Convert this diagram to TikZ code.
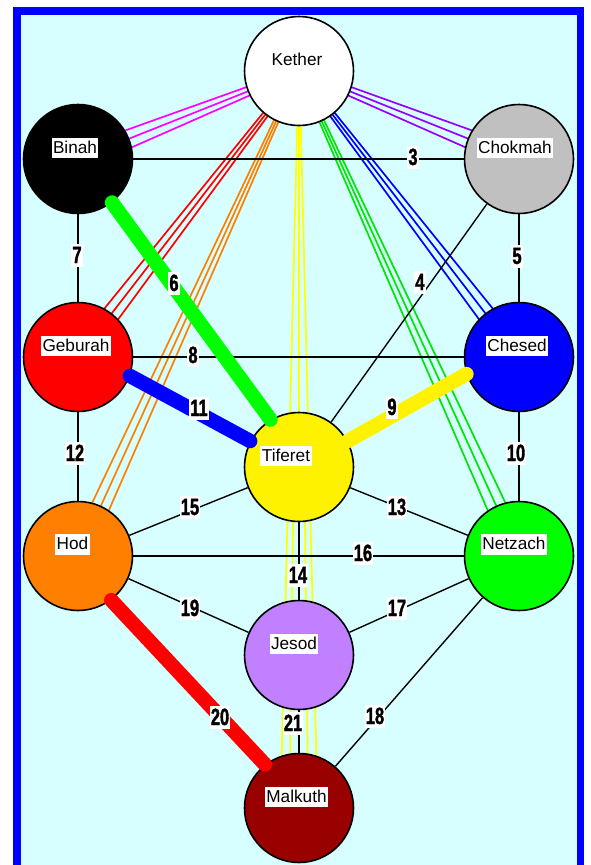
\documentclass[tikz,border=0pt]{standalone}
\usepackage{fontspec}
\setmainfont{Liberation Sans}
\newfontfamily\numfont[FakeStretch=0.7,FakeBold=1.5]{Liberation Sans Bold}
\usetikzlibrary{calc}
\definecolor{bgcyan}{RGB}{216,255,255}
\definecolor{frameblue}{RGB}{0,0,255}
\definecolor{chokgray}{RGB}{192,192,192}
\definecolor{hodorange}{RGB}{255,128,0}
\definecolor{netzgreen}{RGB}{0,255,0}
\definecolor{jesodviolet}{RGB}{192,128,255}
\definecolor{malkred}{RGB}{153,0,0}
\definecolor{fanmagenta}{RGB}{255,0,255}
\definecolor{fanpurple}{RGB}{150,0,255}
\definecolor{fangreen}{RGB}{0,230,0}
\definecolor{fanorange}{RGB}{255,128,0}
\definecolor{fanred}{RGB}{255,0,0}
\definecolor{fanblue}{RGB}{0,0,255}
\definecolor{fanyellow}{RGB}{255,255,0}
\pgfdeclarelayer{back}
\pgfdeclarelayer{fans}
\pgfdeclarelayer{links}
\pgfsetlayers{back,fans,links,main}
\tikzset{
  sephira/.style={circle, draw=black, line width=1.6pt, minimum size=109pt, inner sep=0pt},
  sname/.style={fill=white, inner xsep=1.5pt, inner ysep=0.3pt, text height=15pt, text depth=4.5pt,
    font=\fontsize{17.2pt}{20pt}\selectfont},
  pnum/.style={fill=white, inner xsep=1pt, inner ysep=0pt, text height=19.5pt, text depth=3.5pt,
    font=\numfont\fontsize{23.5pt}{26pt}\selectfont},
  conn/.style={draw=black, line width=1.4pt},
  fanline/.style={line width=1.7pt},
  broad/.style={line width=14.5pt, line cap=round},
}
\newcommand\kfan[5]{%
  \foreach \ofs in {-1,0,1}{%
    \draw[fanline,#1] ($(#2.center)!{\ofs*#4}!90:(#3.center)$) -- ($(#3.center)!{\ofs*#5}!-90:(#2.center)$);
  }}
\begin{document}
\begin{tikzpicture}[x=1pt,y=-1pt]
\useasboundingbox (0,0) rectangle (590,865);
\begin{pgfonlayer}{back}
  \fill[white] (0,0) rectangle (590,865);
  \filldraw[fill=bgcyan, draw=frameblue, line width=7.4pt] (17,11) rectangle (580.5,900);
\end{pgfonlayer}

% sephiroth
\node[sephira, fill=white] (kether) at (299,71) {};
\node[sephira, fill=black] (binah) at (78,159) {};
\node[sephira, fill=chokgray] (chokmah) at (519,159) {};
\node[sephira, fill=red] (geburah) at (78,357) {};
\node[sephira, fill=blue] (chesed) at (519,357) {};
\node[sephira, fill=yellow] (tiferet) at (299,467) {};
\node[sephira, fill=hodorange] (hod) at (78,556) {};
\node[sephira, fill=netzgreen] (netzach) at (519,556) {};
\node[sephira, fill=jesodviolet] (jesod) at (299,655) {};
\node[sephira, fill=malkred] (malkuth) at (299,808) {};

% fans from Kether
\begin{pgfonlayer}{fans}
  \kfan{fanmagenta}{kether}{binah}{2.5pt}{11pt}
  \kfan{fanpurple}{kether}{chokmah}{2.5pt}{11pt}
  \kfan{fanred}{kether}{geburah}{1.5pt}{10pt}
  \kfan{fanorange}{kether}{hod}{1.5pt}{10pt}
  \kfan{fanblue}{kether}{chesed}{1.5pt}{10pt}
  \kfan{fangreen}{kether}{netzach}{1.5pt}{10.5pt}
  \kfan{fanyellow}{kether}{malkuth}{0.5pt}{18.6pt}
  \kfan{fanyellow}{tiferet}{malkuth}{5.3pt}{9.3pt}
\end{pgfonlayer}

% black paths
\begin{pgfonlayer}{links}
  \draw[conn] (binah) -- (chokmah);
  \draw[conn] (chokmah) -- (tiferet);
  \draw[conn] (chokmah) -- (chesed);
  \draw[conn] (binah) -- (geburah);
  \draw[conn] (geburah) -- (chesed);
  \draw[conn] (chesed) -- (netzach);
  \draw[conn] (geburah) -- (hod);
  \draw[conn] (tiferet) -- (netzach);
  \draw[conn] (tiferet) -- (jesod);
  \draw[conn] (tiferet) -- (hod);
  \draw[conn] (hod) -- (netzach);
  \draw[conn] (jesod) -- (netzach);
  \draw[conn] (netzach) -- (malkuth);
  \draw[conn] (hod) -- (jesod);
  \draw[conn] (jesod) -- (malkuth);
\end{pgfonlayer}

% broad paths
\draw[broad, netzgreen] (binah.-52) -- (tiferet.121);
\draw[broad, blue] (geburah.-20) -- (tiferet.152);
\draw[broad, yellow] (chesed.-162) -- (tiferet.28);
\draw[broad, red] (hod.-53) -- (malkuth.128);

% names
\node[sname, xshift=-2pt, yshift=11pt] (kether-t) at (kether) {Kether};
\node[sname, xshift=-3pt, yshift=11pt] (binah-t) at (binah) {Binah};
\node[sname, xshift=-4pt, yshift=11pt] (chokmah-t) at (chokmah) {Chokmah};
\node[sname, xshift=-2pt, yshift=11pt] (geburah-t) at (geburah) {Geburah};
\node[sname, xshift=-2pt, yshift=11pt] (chesed-t) at (chesed) {Chesed};
\node[sname, xshift=-13pt, yshift=11pt] (tiferet-t) at (tiferet) {Tiferet};
\node[sname, xshift=-5.5pt, yshift=11.5pt] (hod-t) at (hod) {Hod};
\node[sname, xshift=-5pt, yshift=11.5pt] (netzach-t) at (netzach) {Netzach};
\node[sname, xshift=-5pt, yshift=11pt] (jesod-t) at (jesod) {Jesod};
\node[sname, xshift=-2.5pt, yshift=11pt] (malkuth-t) at (malkuth) {Malkuth};

% path numbers
\node[pnum] (n3) at (413,157) {3};
\node[pnum] (n4) at (420,282) {4};
\node[pnum] (n5) at (517,256) {5};
\node[pnum] (n6) at (174,283) {6};
\node[pnum] (n7) at (77,255) {7};
\node[pnum] (n8) at (193,355) {8};
\node[pnum] (n9) at (392,407) {9};
\node[pnum] (n10) at (516,453) {10};
\node[pnum] (n11) at (199,408) {11};
\node[pnum] (n12) at (75,453) {12};
\node[pnum] (n13) at (397,507) {13};
\node[pnum] (n14) at (298,575) {14};
\node[pnum] (n15) at (190,507) {15};
\node[pnum] (n16) at (363,553) {16};
\node[pnum] (n17) at (397,608) {17};
\node[pnum] (n18) at (375,716) {18};
\node[pnum] (n19) at (190,608) {19};
\node[pnum] (n20) at (220,717) {20};
\node[pnum] (n21) at (293,723) {21};
\end{tikzpicture}
\end{document}
